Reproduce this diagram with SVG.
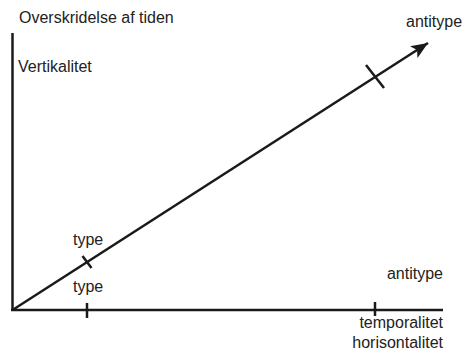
<svg xmlns="http://www.w3.org/2000/svg" width="469" height="354" viewBox="0 0 469 354">
<style>
text{font-family:"Liberation Sans",Arial,sans-serif;font-size:16px;fill:#222}
.ln{stroke:#1a1a1a;stroke-width:2.5;fill:none;stroke-linecap:butt}
</style>
<defs>
<marker id="ah" markerUnits="userSpaceOnUse" markerWidth="20" markerHeight="14" refX="17" refY="7" orient="auto">
<path d="M0,0 L17,7 L0,14 L4,7 Z" fill="#1a1a1a"/>
</marker>
</defs>
<rect width="469" height="354" fill="#fff"/>
<g id="connectors">
<line class="ln" x1="12.5" y1="33" x2="12.5" y2="311"/>
<line class="ln" x1="11" y1="310" x2="443" y2="310"/>
<line class="ln" x1="12.5" y1="310" x2="428" y2="43" marker-end="url(#ah)"/>
<line class="ln" x1="87" y1="303" x2="87" y2="318"/>
<line class="ln" x1="375" y1="302" x2="375" y2="316"/>
<line class="ln" x1="82.5" y1="256" x2="91.5" y2="268"/>
<line class="ln" x1="366" y1="65" x2="384" y2="88"/>
</g>
<g id="labels">
<text x="19" y="23">Overskridelse af tiden</text>
<text x="18" y="72">Vertikalitet</text>
<text x="406" y="27">antitype</text>
<text x="73" y="245">type</text>
<text x="73" y="292">type</text>
<text x="443" y="279" text-anchor="end">antitype</text>
<text x="443" y="328" text-anchor="end">temporalitet</text>
<text x="443" y="348" text-anchor="end">horisontalitet</text>
</g>
</svg>
